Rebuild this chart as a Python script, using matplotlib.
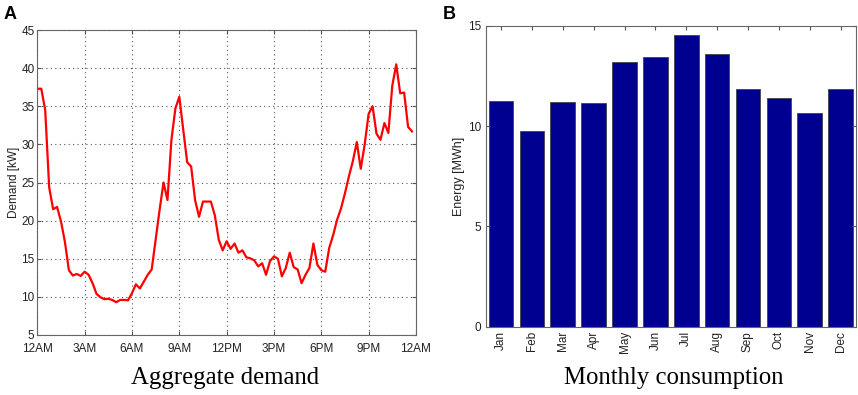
import numpy as np
import matplotlib
matplotlib.use('Agg')
import matplotlib.pyplot as plt

# aggregate demand, 15-minute samples starting 12AM [kW]
hours = np.arange(96) * 0.25
demand = [
    37.3, 37.3, 34.5, 24.4, 21.5, 21.8, 19.9, 17.2,
    13.5, 12.8, 13.0, 12.75, 13.3, 12.9, 11.8, 10.4,
    9.95, 9.7, 9.75, 9.6, 9.3, 9.6, 9.6, 9.55,
    10.5, 11.65, 11.1, 12.0, 12.9, 13.6, 17.5, 21.4,
    25.0, 22.7, 30.6, 34.7, 36.25, 31.9, 27.65, 27.1,
    22.7, 20.5, 22.5, 22.5, 22.5, 20.7, 17.5, 16.1,
    17.3, 16.3, 17.0, 15.8, 16.1, 15.2, 15.05, 14.8,
    14.0, 14.4, 12.9, 14.7, 15.3, 15.0, 12.7, 13.8,
    15.8, 13.9, 13.6, 11.8, 12.9, 13.8, 17.0, 14.2,
    13.5, 13.3, 16.4, 18.1, 20.1, 21.6, 23.6, 25.8,
    27.8, 30.3, 26.8, 30.0, 34.0, 35.0, 31.4, 30.6,
    32.8, 31.5, 37.7, 40.5, 36.7, 36.8, 32.3, 31.7,
]
hour_ticks = [0, 3, 6, 9, 12, 15, 18, 21, 24]
hour_labels = ['12AM', '3AM', '6AM', '9AM', '12PM', '3PM', '6PM', '9PM', '12AM']

# monthly consumption [MWh]
months = ['Jan', 'Feb', 'Mar', 'Apr', 'May', 'Jun',
          'Jul', 'Aug', 'Sep', 'Oct', 'Nov', 'Dec']
energy = [11.26, 9.75, 11.18, 11.16, 13.2, 13.42,
          14.55, 13.6, 11.83, 11.4, 10.66, 11.83]

plt.rcParams['font.family'] = ['Liberation Sans', 'DejaVu Sans']
plt.rcParams['font.size'] = 8.5

fig = plt.figure(figsize=(8.58, 3.95), dpi=100)

# --- panel A
ax1 = fig.add_axes([0.0435, 0.1519, 0.4413, 0.7721])
ax1.plot(hours, demand, color='#ff0000', linewidth=1.6)
ax1.set_xlim(0, 24)
ax1.set_ylim(5, 45)
ax1.set_xticks(hour_ticks)
ax1.set_xticklabels(hour_labels)
ax1.set_yticks(range(5, 46, 5))
ax1.grid(True, linestyle=(0, (1, 3)), color='#555555', linewidth=0.8)
ax1.tick_params(direction='in', top=True, right=True, length=3, pad=2,
                color='#555555', labelcolor='#222222')
ax1.tick_params(axis='x', pad=6)
ax1.set_ylabel('Demand [kW]', labelpad=1, color='#222222')
for s in ax1.spines.values():
    s.set_color('#666666')

# --- panel B
ax2 = fig.add_axes([0.566, 0.1729, 0.4317, 0.7621])
x = np.arange(1, len(months) + 1)
ax2.bar(x, energy, width=0.8, color='#000090', edgecolor='#444444', linewidth=0.6)
ax2.set_xlim(0.5, 12.5)
ax2.set_ylim(0, 15)
ax2.set_xticks(x)
ax2.set_xticklabels(months, rotation=90)
ax2.set_yticks([0, 5, 10, 15])
ax2.tick_params(direction='in', top=True, right=True, length=3, pad=3,
                color='#555555', labelcolor='#222222')
ax2.tick_params(axis='x', bottom=False)
ax2.set_ylabel('Energy [MWh]', labelpad=2, color='#222222', fontsize=9)
for s in ax2.spines.values():
    s.set_color('#666666')

# panel letters and captions
fig.text(0.004, 0.985, 'A', fontsize=13, fontweight='bold', va='top')
fig.text(0.516, 0.985, 'B', fontsize=13, fontweight='bold', va='top')
fig.text(0.262, 0.043, 'Aggregate demand', fontsize=17.8, ha='center', va='center',
         family=['Liberation Serif', 'DejaVu Serif'])
fig.text(0.7855, 0.043, 'Monthly consumption', fontsize=17.8, ha='center', va='center',
         family=['Liberation Serif', 'DejaVu Serif'])

fig.savefig('out.png', dpi=100)
